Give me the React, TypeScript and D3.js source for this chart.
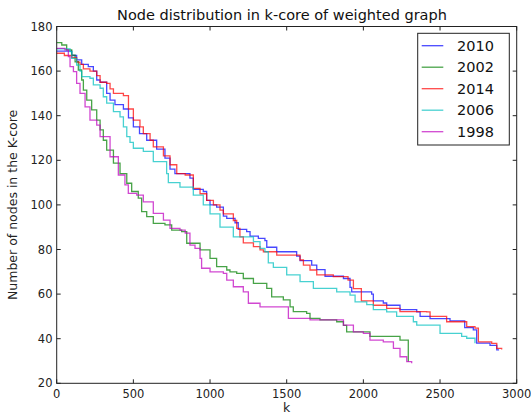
import React from 'react';
import * as d3 from 'd3';

const xTicks = [0, 500, 1000, 1500, 2000, 2500, 3000];
const yTicks = [20, 40, 60, 80, 100, 120, 140, 160, 180];
const seriesNames = ['2010', '2002', '2014', '2006', '1998'];
const seriesColors = ['#0000ff', '#008000', '#ff0000', '#00bfbf', '#bf00bf'];

const s2010: [number, number][] = [
  [0, 169], [98, 167], [130, 165], [163, 163], [206, 162], [239, 160], [261, 156], [283, 155], [326, 150], [348, 147],
  [380, 145], [435, 143], [468, 139], [500, 135], [540, 132], [587, 129], [652, 125], [706, 121], [739, 116], [771, 114],
  [869, 112], [891, 107], [956, 106], [978, 102], [1000, 100], [1043, 99], [1087, 95], [1109, 94], [1163, 92], [1184, 89],
  [1239, 88], [1261, 86], [1315, 85], [1358, 84], [1370, 81], [1435, 79], [1565, 77], [1587, 75], [1663, 73], [1696, 71],
  [1750, 68], [1870, 67], [1913, 63], [1924, 61], [2054, 60], [2065, 57], [2130, 56], [2152, 55], [2239, 53], [2348, 52],
  [2370, 50], [2435, 49], [2565, 48], [2661, 45], [2717, 44], [2739, 38], [2826, 37], [2870, 35], [2885, 35],
];

const s2002: [number, number][] = [
  [0, 172.8], [33, 171.7], [65, 169.5], [98, 167.2], [120, 164.2], [141, 160.5], [163, 156], [174, 151.5], [196, 147],
  [228, 142.6], [261, 138], [283, 133.6], [304, 129], [326, 124.6], [370, 118.7], [413, 114], [457, 109.7], [489, 106],
  [532, 103], [554, 97], [587, 94.7], [630, 91.7], [706, 91], [750, 88.7], [815, 88], [848, 82.8], [935, 79.8], [1000, 76],
  [1043, 72.3], [1109, 70.8], [1130, 70], [1174, 69.3], [1217, 67], [1283, 64.8], [1370, 62.6], [1402, 58.8], [1478, 57.4],
  [1522, 54.3], [1543, 52.1], [1630, 51.4], [1652, 49.1], [1717, 48.4], [1826, 47.6], [1870, 46], [1891, 43.1], [2043, 41],
  [2239, 39.4], [2293, 29.7],
];

const s2014: [number, number][] = [
  [0, 168], [50, 167], [98, 166], [130, 164], [152, 163], [174, 161], [217, 160], [261, 158], [283, 155], [326, 154.5],
  [348, 152], [370, 150], [435, 149], [468, 143], [500, 138], [543, 135], [565, 132], [609, 129], [630, 126], [696, 122],
  [739, 118], [783, 114], [838, 113.4], [891, 107.4], [935, 105], [978, 102], [1022, 100], [1065, 97.7], [1087, 96],
  [1152, 93], [1174, 89.5], [1195, 85.7], [1217, 83], [1283, 81.3], [1326, 79.8], [1348, 79], [1435, 77.5], [1587, 75.3],
  [1609, 73], [1652, 70.8], [1696, 68.6], [1804, 67.8], [1900, 66.3], [1935, 62.5], [1987, 57], [2065, 55], [2152, 53.6],
  [2239, 52.1], [2413, 52], [2435, 50], [2543, 47.6], [2674, 45.4], [2728, 44.7], [2750, 38.6], [2837, 37.9], [2870, 35.7],
  [2902, 35.2],
];

const s2006: [number, number][] = [
  [0, 170], [87, 168.7], [98, 165.7], [130, 162.7], [152, 160], [163, 157.5], [217, 156.8], [239, 153.8], [283, 152.3],
  [304, 148.5], [326, 145.6], [370, 141.8], [413, 139.5], [435, 135], [457, 130.6], [478, 128], [500, 125.4], [565, 124],
  [630, 119.4], [717, 114], [728, 110], [804, 108], [891, 104.4], [956, 100], [1000, 96], [1065, 90], [1152, 85.7],
  [1283, 83.5], [1326, 80.5], [1358, 79], [1380, 74], [1413, 72], [1500, 68.6], [1587, 65.6], [1674, 62.6], [1826, 61],
  [1913, 59.5], [1946, 56.5], [2022, 55.3], [2065, 53], [2152, 52], [2217, 50], [2326, 47.6], [2348, 46.1], [2500, 42.4],
  [2641, 41], [2674, 40.2], [2728, 38],
];

const s1998: [number, number][] = [
  [0, 170.2], [54, 169.5], [76, 166.5], [87, 162], [109, 159.8], [130, 154.5], [152, 150], [185, 144], [217, 138],
  [261, 135.8], [283, 130.6], [348, 121.6], [402, 113.4], [445, 109], [467, 105.2], [522, 104.4], [565, 101.4], [630, 96.2],
  [696, 93.2], [739, 89.5], [804, 88.7], [838, 87.3], [869, 82], [902, 80.5], [935, 76], [945, 71.6], [1000, 70],
  [1087, 69.3], [1109, 66.3], [1152, 63.3], [1217, 61], [1250, 55.9], [1326, 54.3], [1489, 54.3], [1511, 49.1],
  [1652, 48.4], [1848, 48.4], [1870, 46.1], [1935, 43.1], [2000, 42.4], [2043, 39.4], [2130, 38.6], [2196, 35.7],
  [2239, 31.9], [2283, 29.7], [2315, 29],
];

const allSeries = [s2010, s2002, s2014, s2006, s1998];

const W = 531;
const H = 419;
const L = 56.7;
const R = 516.7;
const T = 26.5;
const B = 383.3;
const FONT = 'DejaVu Sans, sans-serif';
const AX = '#222';

export default function App() {
  const x = d3.scaleLinear().domain([0, 3000]).range([L, R]);
  const y = d3.scaleLinear().domain([20, 180]).range([B, T]);
  const line = d3
    .line<[number, number]>()
    .x((d) => x(d[0]))
    .y((d) => y(d[1]))
    .curve(d3.curveStepAfter);

  const legX = 417.7;
  const legY = 33.3;
  const legW = 91.6;
  const legH = 111.7;
  const rowH = 21.5;

  return (
    <svg width={W} height={H} style={{ position: 'absolute', left: 0, top: 0, background: '#fff' }}>
      <rect x={0} y={0} width={W} height={H} fill="#fff" />
      <text x={282} y={20} textAnchor="middle" fontFamily={FONT} fontSize={14.5} fill="#111">
        Node distribution in k-core of weighted graph
      </text>
      <g>
        {allSeries.map((s, i) => (
          <path key={i} d={line(s) || ''} fill="none" stroke={seriesColors[i]} strokeWidth={1.3} strokeOpacity={0.72} />
        ))}
      </g>
      <rect x={L} y={T} width={R - L} height={B - T} fill="none" stroke={AX} strokeWidth={1} />
      {xTicks.map((t) => (
        <g key={'x' + t}>
          <line x1={x(t)} x2={x(t)} y1={B} y2={B - 4} stroke={AX} />
          <line x1={x(t)} x2={x(t)} y1={T} y2={T + 4} stroke={AX} />
          <text x={x(t)} y={398} textAnchor="middle" fontFamily={FONT} fontSize={11.5} fill="#222">
            {t}
          </text>
        </g>
      ))}
      {yTicks.map((t) => (
        <g key={'y' + t}>
          <line x1={L} x2={L + 4} y1={y(t)} y2={y(t)} stroke={AX} />
          <line x1={R} x2={R - 4} y1={y(t)} y2={y(t)} stroke={AX} />
          <text x={52.5} y={y(t) + 4} textAnchor="end" fontFamily={FONT} fontSize={11.5} fill="#222">
            {t}
          </text>
        </g>
      ))}
      <text x={(L + R) / 2} y={412} textAnchor="middle" fontFamily={FONT} fontSize={12.5} fill="#222">
        k
      </text>
      <text
        transform={`translate(17, ${(T + B) / 2}) rotate(-90)`}
        textAnchor="middle"
        fontFamily={FONT}
        fontSize={12.5}
        fill="#222"
      >
        Number of nodes in the K-core
      </text>
      <g>
        <rect x={legX} y={legY} width={legW} height={legH} fill="#fff" stroke={AX} strokeWidth={1} />
        {seriesNames.map((n, i) => {
          const cy = legY + 12.4 + i * rowH;
          return (
            <g key={n}>
              <line x1={421.7} x2={443.3} y1={cy} y2={cy} stroke={seriesColors[i]} strokeWidth={1.3} strokeOpacity={0.72} />
              <text x={494} y={cy + 5} textAnchor="end" fontFamily={FONT} fontSize={14.5} fill="#111">
                {n}
              </text>
            </g>
          );
        })}
      </g>
    </svg>
  );
}
